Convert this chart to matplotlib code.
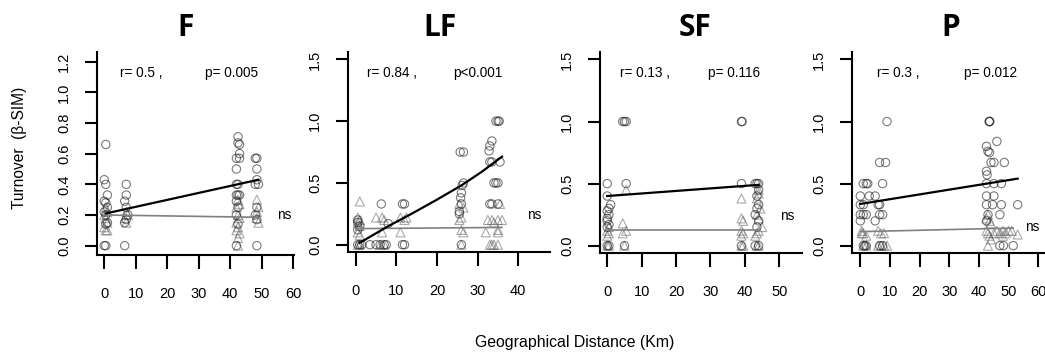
import matplotlib.pyplot as plt

plt.rcParams['font.family'] = ['Liberation Sans', 'DejaVu Sans']

# ---- data ------------------------------------------------------------------
panel_names = ['F', 'LF', 'SF', 'P']

# open circles (x km, turnover)
f_circles = [(0.5, 0.66), (0, 0.43), (0.5, 0.4), (1, 0.33), (0, 0.29), (0.5, 0.28), (1, 0.25),
             (0, 0.22), (0.5, 0.2), (1, 0.15), (0.5, 0.14), (0, 0), (0.5, 0),
             (7, 0.4), (7, 0.33), (6.5, 0.29), (7, 0.25), (7.5, 0.2), (7, 0.17), (6.5, 0.15), (6.5, 0),
             (42.5, 0.71), (42.5, 0.67), (43, 0.66), (43, 0.6), (42, 0.57), (43, 0.57), (42, 0.5),
             (42, 0.4), (42.5, 0.4), (42, 0.33), (42.5, 0.33), (43, 0.33), (42, 0.29), (42.5, 0.25),
             (42, 0.2), (42.5, 0.14), (42, 0),
             (48, 0.57), (48.5, 0.57), (48.5, 0.5), (48.5, 0.43), (48, 0.4), (49, 0.4), (48.5, 0.25),
             (48, 0.2), (48.5, 0.17), (48.5, 0)]
lf_circles = [(0.5, 0.2), (0.5, 0.18), (1, 0.15), (0.5, 0.12), (0.5, 0), (1, 0), (1.5, 0),
              (3.5, 0), (5, 0), (6, 0), (7, 0), (7.5, 0), (6.3, 0.33), (8, 0.17),
              (11.5, 0.33), (12, 0.33), (11.5, 0), (12, 0),
              (25.7, 0.75), (26.5, 0.75), (26.5, 0.5), (26.2, 0.48), (26, 0.42), (25.8, 0.38),
              (26, 0.33), (25.5, 0.27), (25.5, 0.25), (26, 0),
              (34.5, 1.0), (35, 1.0), (35.3, 1.0), (33.5, 0.84), (33, 0.8), (32.8, 0.76), (33, 0.67),
              (33.5, 0.67), (35.5, 0.67), (34, 0.5), (34.5, 0.5), (35, 0.5), (33, 0.33), (33.5, 0.33),
              (35, 0.33)]
sf_circles = [(0, 0.5), (0, 0.4), (1, 0.33), (0.5, 0.3), (0, 0.28), (0.5, 0.25), (0, 0.22), (0, 0.2),
              (0.5, 0.17), (0, 0.15), (0, 0), (0.5, 0),
              (4.5, 1.0), (5, 1.0), (5.5, 1.0), (5.5, 0.5), (5, 0),
              (39, 1.0), (39.2, 1.0), (39, 0.5), (39, 0),
              (43, 0.5), (43.5, 0.5), (44, 0.5), (44, 0.45), (43.5, 0.4), (44, 0.33), (43.5, 0.3),
              (43, 0.25), (44, 0.2), (43.5, 0.15), (43, 0), (44, 0)]
p_circles = [(1, 0.5), (2, 0.5), (2.5, 0.5), (0, 0.4), (3, 0.4), (0, 0.33), (1, 0.33), (0, 0.25),
             (1, 0.25), (2, 0.25), (0, 0.2), (1, 0), (1.5, 0), (2, 0),
             (9, 1.0), (6.5, 0.67), (8.5, 0.67), (7.5, 0.5), (5, 0.4), (6, 0.33), (6.5, 0.33),
             (6.5, 0.25), (7.5, 0.25), (5, 0.2), (6.5, 0), (7.5, 0),
             (43.5, 1.0), (43.6, 1.0), (43.4, 1.0), (46, 0.84), (42.5, 0.8), (43, 0.76), (43.5, 0.75),
             (44, 0.67), (45, 0.67), (48.5, 0.67), (42.5, 0.6), (42.7, 0.57), (42.5, 0.5), (45, 0.5),
             (47.5, 0.5), (42.5, 0.4), (45, 0.4), (42.5, 0.33), (44.5, 0.33), (47.5, 0.33), (43, 0.25),
             (47, 0.25), (42.5, 0.2), (47, 0), (48.2, 0), (51.5, 0), (53, 0.33)]

# open triangles
f_triangles = [(0.5, 0.25), (1, 0.22), (0, 0.2), (0.5, 0.18), (1, 0.15), (0, 0.12), (0.5, 0.1), (1, 0.1),
               (7, 0.22), (7.5, 0.2), (6.5, 0.18), (7, 0.15),
               (42.5, 0.3), (43, 0.27), (42, 0.25), (42.5, 0.2), (43, 0.18), (42, 0.15), (42.5, 0.12),
               (42, 0.1), (43, 0.08), (42.5, 0.05), (42.5, 0),
               (48.5, 0.3), (49, 0.25), (48.5, 0.22), (48.5, 0.18), (49, 0.15)]
lf_triangles = [(1, 0.35), (0.5, 0.22), (1, 0.2), (0.5, 0.18), (1, 0.15), (0.5, 0.1), (1, 0.08),
                (0.5, 0), (1, 0),
                (5, 0.22), (6.5, 0.22), (7, 0.2), (6.5, 0.1), (6, 0), (7, 0),
                (11, 0.22), (12.5, 0.22), (12, 0.2), (11, 0.1),
                (25.5, 0.33), (26.5, 0.3), (26, 0.22), (25.5, 0.2), (26, 0.12), (26.5, 0.1), (26, 0),
                (35.5, 0.33), (32.5, 0.2), (33.5, 0.2), (34, 0.18), (35, 0.2), (36, 0.2), (32, 0.1),
                (35, 0.1), (35, 0.12), (33, 0), (33.5, 0), (34, 0), (35, 0)]
sf_triangles = [(0.5, 0.15), (0, 0.12), (0.5, 0.1), (0, 0.08), (0, 0), (0.5, 0),
                (5.5, 0.45), (4.5, 0.18), (5.5, 0.12), (4.5, 0.1), (5, 0),
                (39, 0.38), (39, 0.22), (39.5, 0.2), (39, 0.12), (39.5, 0.1), (39, 0.08), (39, 0), (39.5, 0),
                (44, 0.45), (44, 0.42), (43.5, 0.38), (44.5, 0.3), (43.5, 0.25), (44, 0.22), (45, 0.15),
                (44, 0.12), (43.5, 0.1), (43, 0.08), (43.5, 0), (44, 0)]
p_triangles = [(0.5, 0.12), (1, 0.1), (2, 0.08), (0.5, 0.1), (1, 0), (2, 0),
               (6, 0.12), (7, 0.1), (8, 0.1), (6, 0), (7, 0), (8, 0), (9, 0),
               (43, 0.25), (42.5, 0.22), (43.5, 0.2), (44, 0.18), (42.5, 0.12), (43, 0.1), (43.5, 0.08),
               (44, 0.05), (43, 0),
               (46, 0.12), (48, 0.12), (50, 0.12), (47, 0.1), (48, 0.08), (49, 0.1), (45, 0.1),
               (51, 0.12), (53, 0.09)]

# fitted lines (black = circles, grey = triangles)
f_fit_x, f_fit_y = [0.5, 49], [0.21, 0.43]
lf_fit_x = [1, 8, 14, 20, 26, 31, 36]
lf_fit_y = [0.016, 0.15, 0.255, 0.365, 0.48, 0.59, 0.713]
sf_fit_x, sf_fit_y = [0, 44], [0.4, 0.49]
p_fit_x, p_fit_y = [0, 53], [0.336, 0.54]

f_ns_x, f_ns_y = [0, 49], [0.2, 0.185]
lf_ns_x, lf_ns_y = [0, 36], [0.13, 0.14]
sf_ns_x, sf_ns_y = [0, 44], [0.125, 0.125]
p_ns_x, p_ns_y = [0, 51.5], [0.113, 0.142]

r_labels = ['r= 0.5 ,', 'r= 0.84 ,', 'r= 0.13 ,', 'r= 0.3 ,']
p_labels = ['p= 0.005', 'p<0.001', 'p= 0.116', 'p= 0.012']

x_ticks = [[0, 10, 20, 30, 40, 50, 60], [0, 10, 20, 30, 40], [0, 10, 20, 30, 40, 50],
           [0, 10, 20, 30, 40, 50, 60]]
y_ticks = [[0.0, 0.2, 0.4, 0.6, 0.8, 1.0, 1.2], [0.0, 0.5, 1.0, 1.5], [0.0, 0.5, 1.0, 1.5],
           [0.0, 0.5, 1.0, 1.5]]

circles = [f_circles, lf_circles, sf_circles, p_circles]
triangles = [f_triangles, lf_triangles, sf_triangles, p_triangles]
fits = [(f_fit_x, f_fit_y), (lf_fit_x, lf_fit_y), (sf_fit_x, sf_fit_y), (p_fit_x, p_fit_y)]
ns_fits = [(f_ns_x, f_ns_y), (lf_ns_x, lf_ns_y), (sf_ns_x, sf_ns_y), (p_ns_x, p_ns_y)]

# ---- layout (pixel boxes of each plot region in the 1045x353 figure) -------
W, H = 1045, 353
boxes = [(97, 52, 294, 255), (348, 52, 550, 252), (600, 52, 802, 253), (852, 52, 1045, 253)]
xlims = [(-2.3, 60.3), (-1.9, 47.8), (-2.1, 56.6), (-2.8, 62.2)]
ylims = [(-0.061, 1.263), (-0.059, 1.56), (-0.059, 1.56), (-0.059, 1.56)]
title_x = [186, 440, 695, 951]
r_pos = [0.117, 0.094, 0.099, 0.13]
p_pos = [0.548, 0.52, 0.535, 0.58]
ns_pos = [(0.914, 0.197), (0.886, 0.185), (0.89, 0.185), (0.896, 0.13)]

fig = plt.figure(figsize=(W / 100, H / 100), dpi=100)

for i, name in enumerate(panel_names):
    x0, y0, x1, y1 = boxes[i]
    ax = fig.add_axes([x0 / W, 1 - y1 / H, (x1 - x0) / W, (y1 - y0) / H])

    # triangles first, circles over them
    tx = [p[0] for p in triangles[i]]
    ty = [p[1] for p in triangles[i]]
    ax.scatter(tx, ty, marker='^', s=42, facecolors='none', edgecolors='#555555',
               alpha=0.5, linewidths=0.8, zorder=2)
    cx = [p[0] for p in circles[i]]
    cy = [p[1] for p in circles[i]]
    ax.scatter(cx, cy, marker='o', s=36, facecolors='none', edgecolors='#222222',
               alpha=0.6, linewidths=0.8, zorder=3)

    ax.plot(ns_fits[i][0], ns_fits[i][1], color='#808080', lw=1.2, zorder=4)
    ax.plot(fits[i][0], fits[i][1], color='black', lw=1.6, zorder=5)

    ax.set_xlim(*xlims[i])
    ax.set_ylim(*ylims[i])
    ax.spines['top'].set_visible(False)
    ax.spines['right'].set_visible(False)
    ax.spines['left'].set_linewidth(1.5)
    ax.spines['bottom'].set_linewidth(1.5)

    ax.set_xticks(x_ticks[i])
    ax.set_xticklabels([str(t) for t in x_ticks[i]])
    ax.set_yticks(y_ticks[i])
    ax.set_yticklabels([f'{t:.1f}' for t in y_ticks[i]], rotation=90, va='center')
    ax.tick_params(axis='x', length=10, width=1.5, pad=13, labelsize=10.5)
    ax.tick_params(axis='y', length=8.5, width=1.5, pad=10, labelsize=10.5)

    ax.text(r_pos[i], 0.895, r_labels[i], transform=ax.transAxes, fontsize=9.8, va='center')
    ax.text(p_pos[i], 0.895, p_labels[i], transform=ax.transAxes, fontsize=9.8, va='center')
    ax.text(ns_pos[i][0], ns_pos[i][1], 'ns', transform=ax.transAxes, fontsize=9.8,
            va='center', clip_on=False)

    fig.text(title_x[i] / W, 1 - 27.5 / H, name, family=['Open Sans', 'DejaVu Sans'],
             fontweight='bold', fontsize=21.5, ha='center', va='center')

fig.text(20 / W, 1 - 148 / H, 'Turnover  (\u03b2-SIM)', rotation=90, fontsize=11.2,
         ha='center', va='center')
fig.text(575 / W, 1 - 343 / H, 'Geographical Distance (Km)', fontsize=11.4,
         ha='center', va='center')

fig.savefig('out.png', dpi=100)
